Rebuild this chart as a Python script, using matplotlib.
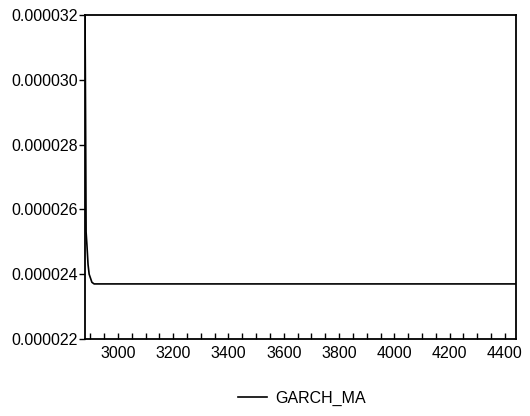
import matplotlib
matplotlib.use("Agg")
import matplotlib.pyplot as plt
from matplotlib.ticker import MultipleLocator, FormatStrFormatter

# data
obs = [2881, 2883, 2885, 2888, 2892, 2896, 2900, 2906, 2914, 4440]
garch_ma = [0.0000322, 0.0000290, 0.0000253, 0.0000249, 0.0000243, 0.0000240,
            0.0000239, 0.00002375, 0.0000237, 0.0000237]
series_name = "GARCH_MA"
y_ticks = [0.000022, 0.000024, 0.000026, 0.000028, 0.000030, 0.000032]
x_ticks = [3000, 3200, 3400, 3600, 3800, 4000, 4200, 4400]

plt.rcParams['font.family'] = ['Liberation Sans', 'DejaVu Sans']

fig = plt.figure(figsize=(5.30, 4.16), dpi=100)
ax = fig.add_axes([85/530, 1-339/416, (516-85)/530, (339-15)/416])

ax.plot(obs, garch_ma, color='black', lw=1.2, label=series_name)

ax.set_xlim(2881, 4440)
ax.set_ylim(0.000022, 0.000032)
ax.set_yticks(y_ticks)
ax.yaxis.set_major_formatter(FormatStrFormatter('%.6f'))
ax.set_xticks(x_ticks)
ax.xaxis.set_minor_locator(MultipleLocator(50))

for s in ax.spines.values():
    s.set_linewidth(1.3)
    s.set_color('black')

ax.tick_params(axis='y', direction='out', length=4, width=1, labelsize=11.5, pad=1, colors='black')
ax.tick_params(axis='x', which='both', direction='in', length=4, width=1, labelsize=11.5, pad=5)

fig.legend(loc='lower center', bbox_to_anchor=(0.57, -0.01), frameon=False,
           fontsize=11.5, handlelength=1.8, handletextpad=0.5)

fig.savefig('out.png', dpi=100)
